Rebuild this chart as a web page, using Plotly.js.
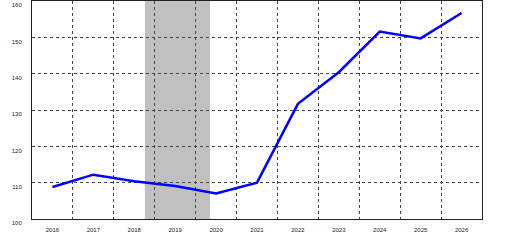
<!DOCTYPE html>
<html>
<head>
<meta charset="utf-8">
<script src="https://cdn.plot.ly/plotly-3.0.1.min.js"></script>
<style>html,body{margin:0;padding:0;background:#fff;}#chart{width:515px;height:241px;}</style>
</head>
<body>
<div id="chart"></div>
<script>
var years = [2016, 2017, 2018, 2019, 2020, 2021, 2022, 2023, 2024, 2025, 2026];
var values = [108.8, 112.2, 110.4, 109.1, 107.0, 110.0, 131.7, 140.4, 151.6, 149.7, 156.7];
var yTicks = [100, 110, 120, 130, 140, 150, 160];
var xTickLabels = ['2016','2017','2018','2019','2020','2021','2022','2023','2024','2025','2026'];
var shadeStart = 2018.26;
var shadeEnd = 2019.85;

var gridStyle = {color: '#444', dash: '3px,3px', width: 1};
var tickFont = {family: 'Liberation Sans, Arial, sans-serif', size: 6, color: '#222'};

var data = [{
  x: years, y: values, type: 'scatter', mode: 'lines',
  line: {color: '#0000ff', width: 2.5}, hoverinfo: 'skip'
}];

var layout = {
  width: 515, height: 241,
  margin: {l: 32, r: 33, t: 1, b: 22, pad: 0},
  paper_bgcolor: '#ffffff', plot_bgcolor: '#ffffff',
  showlegend: false,
  xaxis: {
    range: [2015.5, 2026.5], tickmode: 'array', tickvals: years, ticktext: xTickLabels,
    showgrid: false, zeroline: false, showline: true, mirror: true,
    linecolor: '#222', linewidth: 1, ticks: '', tickfont: tickFont, ticklabelstandoff: 5,
    minor: {tickmode: 'linear', tick0: 2015.5, dtick: 1, showgrid: true,
            gridcolor: gridStyle.color, griddash: gridStyle.dash, gridwidth: gridStyle.width, ticks: ''}
  },
  yaxis: {
    range: [100, 160], tickmode: 'array', tickvals: yTicks, ticktext: yTicks.map(String),
    showgrid: true, gridcolor: gridStyle.color, griddash: gridStyle.dash, gridwidth: gridStyle.width,
    zeroline: false, showline: true, mirror: true, linecolor: '#222', linewidth: 1,
    ticks: '', tickfont: tickFont, ticklabelposition: 'outside bottom', ticklabelstandoff: 8
  },
  shapes: [{
    type: 'rect', xref: 'x', yref: 'paper', x0: shadeStart, x1: shadeEnd, y0: 0, y1: 1,
    fillcolor: '#c0c0c0', line: {width: 0}, layer: 'below'
  }]
};

Plotly.newPlot('chart', data, layout, {displayModeBar: false, staticPlot: true});
</script>
</body>
</html>
